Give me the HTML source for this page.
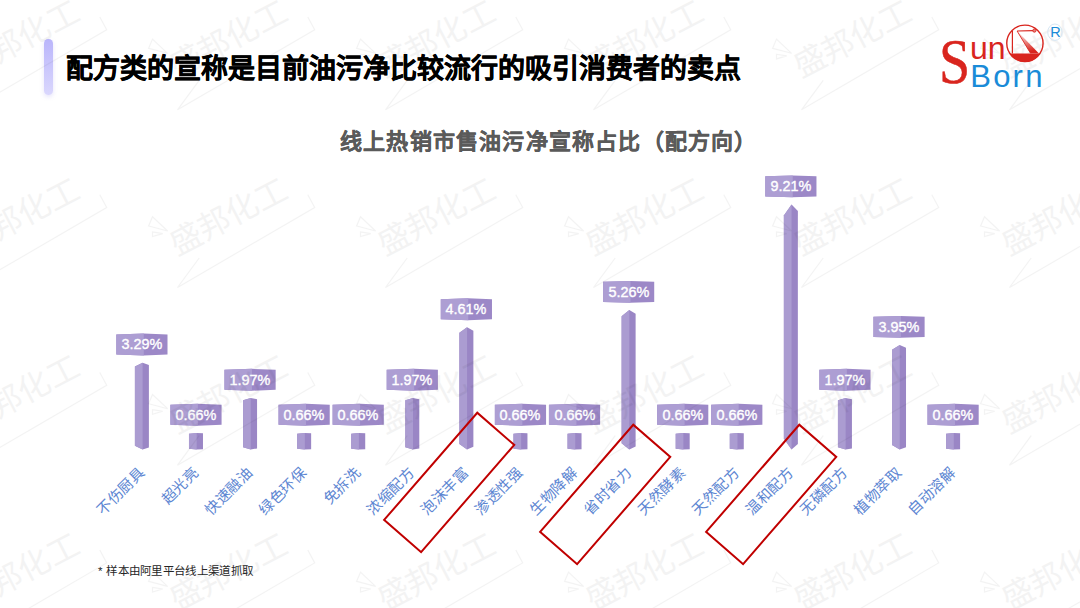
<!DOCTYPE html>
<html lang="zh-CN"><head><meta charset="utf-8">
<style>
*{margin:0;padding:0;box-sizing:border-box}
html,body{width:1080px;height:608px;overflow:hidden;background:#fff}
body{position:relative;font-family:"Liberation Sans",sans-serif}
.abs{position:absolute}
#bar{position:absolute;left:44px;top:39px;width:8.5px;height:56px;border-radius:4.25px;background:linear-gradient(#bab5fb,#dad7fd);box-shadow:0 2px 4px rgba(160,150,240,.25)}
#title{position:absolute;left:66px;top:51px;-webkit-text-stroke:0.4px #000;font-size:27px;font-weight:bold;color:#000;white-space:nowrap;line-height:36px}
#sub{position:absolute;left:340px;top:127px;letter-spacing:1.2px;-webkit-text-stroke:0.3px #5a5a5a;font-size:22px;font-weight:bold;color:#5a5a5a;white-space:nowrap;line-height:30px}
.val{position:absolute;width:60px;height:21px;line-height:21px;text-align:center;color:#fff;font-size:15.5px;-webkit-text-stroke:0.4px #fff;transform:scaleX(0.93)}
.xl{position:absolute;width:100px;height:16px;line-height:16px;text-align:right;font-size:14.7px;color:#5d86d2;white-space:nowrap;transform-origin:100% 50%;transform:rotate(-45deg)}
.rb{position:absolute;width:144px;height:50.5px;border:2.8px solid #c00000;transform:rotate(-49deg)}
#lS{position:absolute;left:938.9px;top:30.7px;font-family:"Liberation Serif",serif;font-size:63px;line-height:63px;color:#d9251e;-webkit-text-stroke:0.5px #d9251e;transform-origin:0 0;transform:scaleX(0.89)}
#lun{position:absolute;left:970px;top:31.7px;font-size:32px;line-height:32px;color:#d9251e}
#lBorn{position:absolute;left:970.3px;top:60.6px;font-size:31px;line-height:31px;letter-spacing:2.2px;color:#1a8bd8}
#lR{position:absolute;left:1050.3px;top:24.5px;font-size:14.5px;line-height:14.5px;color:#1a8bd8}
#note{position:absolute;left:98px;top:562.6px;font-size:11.5px;letter-spacing:0.3px;color:#262626;white-space:nowrap;line-height:16px}
</style></head><body>
<div id="bar"></div>
<div id="title">配方类的宣称是目前油污净比较流行的吸引消费者的卖点</div>
<div id="sub">线上热销市售油污净宣称占比（配方向）</div>
<svg class="abs" style="left:0;top:0" width="1080" height="608" viewBox="0 0 1080 608">
<polygon points="134.90,366.54 142.60,362.63 148.90,364.98 148.90,447.60 142.60,449.60 134.90,445.69" fill="#9a86c5"/><polygon points="134.90,366.54 142.60,362.63 142.60,449.60 134.90,445.69" fill="#ab9cd1"/><polygon points="116.30,334.48 143.80,333.58 167.50,334.48 167.50,354.58 143.80,355.48 116.30,354.58" fill="#9c88c7"/><polygon points="116.30,334.48 143.80,333.58 143.80,355.48 116.30,354.58" fill="#ad9ed3"/><polygon points="188.98,433.66 196.68,432.90 202.98,433.36 202.98,449.22 196.68,449.60 188.98,448.85" fill="#9a86c5"/><polygon points="188.98,433.66 196.68,432.90 196.68,449.60 188.98,448.85" fill="#ab9cd1"/><polygon points="170.38,404.75 197.88,403.85 221.58,404.75 221.58,424.85 197.88,425.75 170.38,424.85" fill="#9c88c7"/><polygon points="170.38,404.75 197.88,403.85 197.88,425.75 170.38,424.85" fill="#ad9ed3"/><polygon points="243.06,400.23 250.76,397.90 257.06,399.30 257.06,448.41 250.76,449.60 243.06,447.27" fill="#9a86c5"/><polygon points="243.06,400.23 250.76,397.90 250.76,449.60 243.06,447.27" fill="#ab9cd1"/><polygon points="224.46,369.75 251.96,368.85 275.66,369.75 275.66,389.85 251.96,390.75 224.46,389.85" fill="#9c88c7"/><polygon points="224.46,369.75 251.96,368.85 251.96,390.75 224.46,389.85" fill="#ad9ed3"/><polygon points="297.14,433.66 304.84,432.90 311.14,433.36 311.14,449.22 304.84,449.60 297.14,448.85" fill="#9a86c5"/><polygon points="297.14,433.66 304.84,432.90 304.84,449.60 297.14,448.85" fill="#ab9cd1"/><polygon points="278.54,404.75 306.04,403.85 329.74,404.75 329.74,424.85 306.04,425.75 278.54,424.85" fill="#9c88c7"/><polygon points="278.54,404.75 306.04,403.85 306.04,425.75 278.54,424.85" fill="#ad9ed3"/><polygon points="351.22,433.66 358.92,432.90 365.22,433.36 365.22,449.22 358.92,449.60 351.22,448.85" fill="#9a86c5"/><polygon points="351.22,433.66 358.92,432.90 358.92,449.60 351.22,448.85" fill="#ab9cd1"/><polygon points="332.62,404.75 360.12,403.85 383.82,404.75 383.82,424.85 360.12,425.75 332.62,424.85" fill="#9c88c7"/><polygon points="332.62,404.75 360.12,403.85 360.12,425.75 332.62,424.85" fill="#ad9ed3"/><polygon points="405.30,400.23 413.00,397.90 419.30,399.30 419.30,448.41 413.00,449.60 405.30,447.27" fill="#9a86c5"/><polygon points="405.30,400.23 413.00,397.90 413.00,449.60 405.30,447.27" fill="#ab9cd1"/><polygon points="386.70,369.75 414.20,368.85 437.90,369.75 437.90,389.85 414.20,390.75 386.70,389.85" fill="#9c88c7"/><polygon points="386.70,369.75 414.20,368.85 414.20,390.75 386.70,389.85" fill="#ad9ed3"/><polygon points="459.38,332.86 467.08,327.36 473.38,330.66 473.38,446.79 467.08,449.60 459.38,444.10" fill="#9a86c5"/><polygon points="459.38,332.86 467.08,327.36 467.08,449.60 459.38,444.10" fill="#ab9cd1"/><polygon points="440.78,299.21 468.28,298.31 491.98,299.21 491.98,319.31 468.28,320.21 440.78,319.31" fill="#9c88c7"/><polygon points="440.78,299.21 468.28,298.31 468.28,320.21 440.78,319.31" fill="#ad9ed3"/><polygon points="513.46,433.66 521.16,432.90 527.46,433.36 527.46,449.22 521.16,449.60 513.46,448.85" fill="#9a86c5"/><polygon points="513.46,433.66 521.16,432.90 521.16,449.60 513.46,448.85" fill="#ab9cd1"/><polygon points="494.86,404.75 522.36,403.85 546.06,404.75 546.06,424.85 522.36,425.75 494.86,424.85" fill="#9c88c7"/><polygon points="494.86,404.75 522.36,403.85 522.36,425.75 494.86,424.85" fill="#ad9ed3"/><polygon points="567.54,433.66 575.24,432.90 581.54,433.36 581.54,449.22 575.24,449.60 567.54,448.85" fill="#9a86c5"/><polygon points="567.54,433.66 575.24,432.90 575.24,449.60 567.54,448.85" fill="#ab9cd1"/><polygon points="548.94,404.75 576.44,403.85 600.14,404.75 600.14,424.85 576.44,425.75 548.94,424.85" fill="#9c88c7"/><polygon points="548.94,404.75 576.44,403.85 576.44,425.75 548.94,424.85" fill="#ad9ed3"/><polygon points="621.62,316.28 629.32,309.99 635.62,313.76 635.62,446.39 629.32,449.60 621.62,443.32" fill="#9a86c5"/><polygon points="621.62,316.28 629.32,309.99 629.32,449.60 621.62,443.32" fill="#ab9cd1"/><polygon points="603.02,281.84 630.52,280.94 654.22,281.84 654.22,301.94 630.52,302.84 603.02,301.94" fill="#9c88c7"/><polygon points="603.02,281.84 630.52,280.94 630.52,302.84 603.02,301.94" fill="#ad9ed3"/><polygon points="675.70,433.66 683.40,432.90 689.70,433.36 689.70,449.22 683.40,449.60 675.70,448.85" fill="#9a86c5"/><polygon points="675.70,433.66 683.40,432.90 683.40,449.60 675.70,448.85" fill="#ab9cd1"/><polygon points="657.10,404.75 684.60,403.85 708.30,404.75 708.30,424.85 684.60,425.75 657.10,424.85" fill="#9c88c7"/><polygon points="657.10,404.75 684.60,403.85 684.60,425.75 657.10,424.85" fill="#ad9ed3"/><polygon points="729.78,433.66 737.48,432.90 743.78,433.36 743.78,449.22 737.48,449.60 729.78,448.85" fill="#9a86c5"/><polygon points="729.78,433.66 737.48,432.90 737.48,449.60 729.78,448.85" fill="#ab9cd1"/><polygon points="711.18,404.75 738.68,403.85 762.38,404.75 762.38,424.85 738.68,425.75 711.18,424.85" fill="#9c88c7"/><polygon points="711.18,404.75 738.68,403.85 738.68,425.75 711.18,424.85" fill="#ad9ed3"/><polygon points="783.86,215.48 791.56,204.45 797.86,211.07 797.86,443.96 791.56,449.60 783.86,438.57" fill="#9a86c5"/><polygon points="783.86,215.48 791.56,204.45 791.56,449.60 783.86,438.57" fill="#ab9cd1"/><polygon points="765.26,176.30 792.76,175.40 816.46,176.30 816.46,196.40 792.76,197.30 765.26,196.40" fill="#9c88c7"/><polygon points="765.26,176.30 792.76,175.40 792.76,197.30 765.26,196.40" fill="#ad9ed3"/><polygon points="837.94,400.23 845.64,397.90 851.94,399.30 851.94,448.41 845.64,449.60 837.94,447.27" fill="#9a86c5"/><polygon points="837.94,400.23 845.64,397.90 845.64,449.60 837.94,447.27" fill="#ab9cd1"/><polygon points="819.34,369.75 846.84,368.85 870.54,369.75 870.54,389.85 846.84,390.75 819.34,389.85" fill="#9c88c7"/><polygon points="819.34,369.75 846.84,368.85 846.84,390.75 819.34,389.85" fill="#ad9ed3"/><polygon points="892.02,349.70 899.72,345.00 906.02,347.82 906.02,447.19 899.72,449.60 892.02,444.89" fill="#9a86c5"/><polygon points="892.02,349.70 899.72,345.00 899.72,449.60 892.02,444.89" fill="#ab9cd1"/><polygon points="873.42,316.85 900.92,315.95 924.62,316.85 924.62,336.95 900.92,337.85 873.42,336.95" fill="#9c88c7"/><polygon points="873.42,316.85 900.92,315.95 900.92,337.85 873.42,336.95" fill="#ad9ed3"/><polygon points="946.10,433.66 953.80,432.90 960.10,433.36 960.10,449.22 953.80,449.60 946.10,448.85" fill="#9a86c5"/><polygon points="946.10,433.66 953.80,432.90 953.80,449.60 946.10,448.85" fill="#ab9cd1"/><polygon points="927.50,404.75 955.00,403.85 978.70,404.75 978.70,424.85 955.00,425.75 927.50,424.85" fill="#9c88c7"/><polygon points="927.50,404.75 955.00,403.85 955.00,425.75 927.50,424.85" fill="#ad9ed3"/>
</svg>
<div class="val" style="left:111.90px;top:333.43px">3.29%</div><div class="xl" style="left:41.90px;top:461.50px">不伤厨具</div><div class="val" style="left:165.98px;top:403.70px">0.66%</div><div class="xl" style="left:95.98px;top:461.50px">超光亮</div><div class="val" style="left:220.06px;top:368.70px">1.97%</div><div class="xl" style="left:150.06px;top:461.50px">快速融油</div><div class="val" style="left:274.14px;top:403.70px">0.66%</div><div class="xl" style="left:204.14px;top:461.50px">绿色环保</div><div class="val" style="left:328.22px;top:403.70px">0.66%</div><div class="xl" style="left:258.22px;top:461.50px">免拆洗</div><div class="val" style="left:382.30px;top:368.70px">1.97%</div><div class="xl" style="left:312.30px;top:461.50px">浓缩配方</div><div class="val" style="left:436.38px;top:298.16px">4.61%</div><div class="xl" style="left:366.38px;top:461.50px">泡沫丰富</div><div class="val" style="left:490.46px;top:403.70px">0.66%</div><div class="xl" style="left:420.46px;top:461.50px">渗透性强</div><div class="val" style="left:544.54px;top:403.70px">0.66%</div><div class="xl" style="left:474.54px;top:461.50px">生物降解</div><div class="val" style="left:598.62px;top:280.79px">5.26%</div><div class="xl" style="left:528.62px;top:461.50px">省时省力</div><div class="val" style="left:652.70px;top:403.70px">0.66%</div><div class="xl" style="left:582.70px;top:461.50px">天然酵素</div><div class="val" style="left:706.78px;top:403.70px">0.66%</div><div class="xl" style="left:636.78px;top:461.50px">天然配方</div><div class="val" style="left:760.86px;top:175.25px">9.21%</div><div class="xl" style="left:690.86px;top:461.50px">温和配方</div><div class="val" style="left:814.94px;top:368.70px">1.97%</div><div class="xl" style="left:744.94px;top:461.50px">无磷配方</div><div class="val" style="left:869.02px;top:315.80px">3.95%</div><div class="xl" style="left:799.02px;top:461.50px">植物萃取</div><div class="val" style="left:923.10px;top:403.70px">0.66%</div><div class="xl" style="left:853.10px;top:461.50px">自动溶解</div>
<svg class="abs" style="left:0;top:0;opacity:0.045" width="1080" height="608" viewBox="0 0 1080 608"><g id="wm" fill="none" stroke="#000" stroke-width="1.1"><polyline points="199.2,258 177.5,287.5 314.7,207.5 307.8,194.7"/><polygon points="152.5,216.8 148.6,226 167.6,231"/><polygon points="152.5,232 152.5,236.6 162.7,233.6"/><text x="0" y="0" transform="translate(176.5,256) rotate(-27.5)" stroke="none" fill="#000" font-size="32">盛邦化工</text></g><use href="#wm" x="-208.0" y="-177.7"/><use href="#wm" x="0.0" y="-177.7"/><use href="#wm" x="208.0" y="-177.7"/><use href="#wm" x="416.0" y="-177.7"/><use href="#wm" x="624.0" y="-177.7"/><use href="#wm" x="832.0" y="-177.7"/><use href="#wm" x="-208.0" y="0.0"/><use href="#wm" x="208.0" y="0.0"/><use href="#wm" x="416.0" y="0.0"/><use href="#wm" x="624.0" y="0.0"/><use href="#wm" x="832.0" y="0.0"/><use href="#wm" x="-208.0" y="177.7"/><use href="#wm" x="0.0" y="177.7"/><use href="#wm" x="208.0" y="177.7"/><use href="#wm" x="416.0" y="177.7"/><use href="#wm" x="624.0" y="177.7"/><use href="#wm" x="832.0" y="177.7"/><use href="#wm" x="-208.0" y="355.4"/><use href="#wm" x="0.0" y="355.4"/><use href="#wm" x="208.0" y="355.4"/><use href="#wm" x="416.0" y="355.4"/><use href="#wm" x="624.0" y="355.4"/><use href="#wm" x="832.0" y="355.4"/></svg>
<div class="rb" style="left:377.35px;top:457.45px"></div><div class="rb" style="left:532.50px;top:468.95px"></div><div class="rb" style="left:699.00px;top:468.75px"></div>

<div id="lS">S</div><div id="lun">un</div><div id="lBorn">Born</div><div id="lR">R</div>
<svg class="abs" style="left:0;top:0" width="1080" height="608" viewBox="0 0 1080 608">
<defs><linearGradient id="wg" x1="0" y1="0" x2="0.3" y2="1"><stop offset="0" stop-color="#d9251e" stop-opacity="0.05"/><stop offset="0.55" stop-color="#d9251e" stop-opacity="0.55"/><stop offset="1" stop-color="#d9251e"/></linearGradient></defs>
<circle cx="1024.9" cy="43.3" r="18.15" fill="none" stroke="#d9251e" stroke-width="1.4"/>
<path d="M1009.5 53.4 L1040.3 53.4 A18.15 18.15 0 0 1 1009.5 53.4 Z" fill="#d9251e"/>
<line x1="1012.4" y1="31" x2="1012.4" y2="53.6" stroke="#d9251e" stroke-width="1.2"/>
<line x1="1017.1" y1="31" x2="1033.5" y2="30.7" stroke="#d9251e" stroke-width="1.2"/>
<circle cx="1034.4" cy="30.6" r="1.6" fill="#e9837d" stroke="#d9251e" stroke-width="0.9"/>
<polygon points="1017.1,31 1039,53.6 1030.6,53.6" fill="url(#wg)"/>
<line x1="1017.1" y1="31" x2="1030.6" y2="53.4" stroke="#d9251e" stroke-width="0.9"/>
<ellipse cx="1054.9" cy="32.2" rx="7.2" ry="8.2" fill="none" stroke="#d6e7f4" stroke-width="1"/>
</svg>
<div id="note">* 样本由阿里平台线上渠道抓取</div>
</body></html>
